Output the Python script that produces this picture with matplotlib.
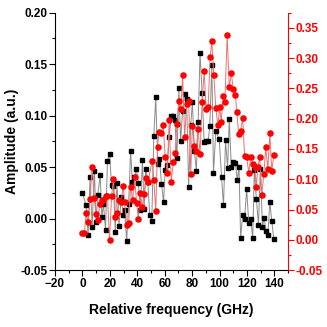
import matplotlib.pyplot as plt
from matplotlib.ticker import MultipleLocator
from matplotlib import font_manager

# black series (left axis)
x_blk = [0.0, 2.7, 4.2, 5.6, 7.1, 8.8, 10.0, 11.2, 13.0, 14.2, 15.4, 16.9, 18.3, 19.8,
         21.3, 22.7, 24.0, 25.2, 26.7, 28.4, 29.6, 30.8, 32.3, 33.7, 35.2, 36.4, 37.9,
         39.4, 40.8, 42.3, 43.8, 45.0, 46.2, 47.7, 49.1, 50.6, 52.1, 53.5, 55.0, 56.2,
         57.7, 59.2, 60.4, 61.9, 63.3, 64.8, 66.0, 67.5, 68.9, 70.4, 71.6, 73.1, 74.6,
         76.0, 77.5, 79.0, 80.2, 81.7, 83.1, 84.4, 85.8, 87.3, 88.8, 90.2, 91.7, 92.9,
         94.4, 95.6, 97.3, 99.8, 101.5, 102.9, 104.4, 105.9, 107.1, 108.6, 110.0, 111.5,
         113.0, 114.2, 115.4, 116.9, 118.3, 119.8, 121.3, 122.7, 124.2, 125.4, 126.9,
         128.4, 129.8, 131.3, 132.5, 134.0, 135.2, 136.7, 138.1, 139.6]
y_blk = [0.025, 0.013, -0.016, 0.040, -0.008, 0.046, -0.003, 0.023, 0.042, 0.002, 0.014,
         -0.011, 0.056, 0.063, 0.033, 0.032, -0.013, 0.035, -0.007, 0.021, 0.004, 0.008,
         -0.022, 0.014, 0.066, 0.036, 0.040, 0.048, 0.035, 0.008, 0.057, 0.009, 0.048,
         0.036, 0.004, -0.002, 0.080, 0.118, 0.053, 0.058, 0.034, 0.016, 0.047, 0.052,
         0.079, 0.100, 0.100, 0.096, 0.059, 0.127, 0.075, 0.105, 0.121, 0.116, 0.031,
         0.091, 0.113, 0.066, 0.046, 0.094, 0.161, 0.122, 0.074, 0.075, 0.075, 0.090,
         0.149, 0.044, 0.085, 0.077, 0.040, 0.013, 0.076, 0.049, 0.097, 0.050, 0.055,
         0.054, 0.038, 0.050, -0.019, 0.004, 0.000, 0.029, -0.004, 0.000, -0.019, 0.047,
         0.019, -0.006, 0.048, -0.008, 0.001, -0.012, -0.016, 0.016, -0.002, -0.020]

# red series (right axis)
x_red = [0.0, 1.5, 2.7, 4.2, 5.6, 7.1, 8.6, 10.0, 11.2, 12.7, 14.2, 15.4, 16.9, 18.3,
         19.8, 21.3, 22.7, 24.0, 25.4, 26.9, 28.4, 29.8, 30.8, 32.3, 33.7, 35.2, 36.7,
         38.1, 39.6, 40.8, 42.3, 43.5, 45.0, 46.5, 47.9, 50.9, 52.1, 53.5, 54.8, 56.0,
         57.5, 58.9, 60.4, 61.9, 63.3, 64.8, 66.3, 67.7, 68.9, 70.4, 71.9, 73.1, 74.6,
         76.0, 77.5, 79.0, 80.2, 81.7, 82.9, 84.4, 85.8, 87.3, 88.8, 90.2, 91.7, 93.2,
         94.4, 95.8, 97.3, 98.8, 100.2, 101.2, 102.7, 103.9, 105.6, 107.1, 108.6, 110.0,
         111.5, 112.7, 113.9, 115.4, 116.9, 118.3, 119.8, 121.3, 122.7, 124.2, 125.7,
         126.9, 127.9, 129.3, 130.8, 132.3, 133.7, 135.2, 136.7, 138.1, 139.6]
y_red = [0.012, 0.011, 0.044, 0.029, 0.068, 0.121, 0.069, 0.043, 0.033, 0.059, 0.066,
         0.066, 0.072, 0.072, 0.000, 0.072, 0.100, 0.037, 0.045, 0.065, 0.063, 0.089,
         0.063, 0.025, 0.027, 0.088, 0.065, 0.103, 0.060, 0.035, 0.077, 0.054, 0.076,
         0.102, 0.095, 0.131, 0.099, 0.047, 0.154, 0.178, 0.176, 0.190, 0.137, 0.110,
         0.198, 0.096, 0.128, 0.143, 0.192, 0.229, 0.216, 0.272, 0.169, 0.225, 0.229,
         0.109, 0.188, 0.155, 0.147, 0.183, 0.142, 0.227, 0.279, 0.216, 0.220, 0.302,
         0.329, 0.273, 0.218, 0.189, 0.220, 0.194, 0.238, 0.227, 0.338, 0.252, 0.275,
         0.249, 0.239, 0.211, 0.175, 0.180, 0.202, 0.139, 0.136, 0.111, 0.136, 0.126,
         0.120, 0.087, 0.121, 0.136, 0.074, 0.108, 0.153, 0.117, 0.176, 0.113, 0.140]

names = {f.name for f in font_manager.fontManager.ttflist}
fam = 'Liberation Sans Narrow' if 'Liberation Sans Narrow' in names else 'Liberation Sans'
plt.rcParams['font.family'] = [fam, 'DejaVu Sans']
plt.rcParams['font.weight'] = 'bold'

fig = plt.figure(figsize=(3.27, 3.27), dpi=100)
ax = fig.add_axes([0.168, 0.174, 0.713, 0.787])
ax2 = ax.twinx()

ax.plot(x_blk, y_blk, color='#8a8a8a', lw=0.7, marker='s', ms=3.0,
        mfc='black', mec='black', zorder=2)
ax2.plot(x_red, y_red, color='#f07070', lw=0.7, marker='o', ms=3.7,
         mfc='red', mec='red', zorder=3)

ax.set_xlim(-20, 150)
ax.set_ylim(-0.05, 0.20)
ax2.set_ylim(-0.05, 0.375)

ax.xaxis.set_major_locator(MultipleLocator(20))
ax.xaxis.set_minor_locator(MultipleLocator(10))
ax.yaxis.set_major_locator(MultipleLocator(0.05))
ax.yaxis.set_minor_locator(MultipleLocator(0.025))
ax2.yaxis.set_major_locator(MultipleLocator(0.05))
ax2.yaxis.set_minor_locator(MultipleLocator(0.025))
ax.set_xticks([-20, 0, 20, 40, 60, 80, 100, 120, 140])

for a in (ax, ax2):
    a.spines['top'].set_visible(False)
ax.spines['right'].set_visible(False)
ax2.spines['left'].set_visible(False)
ax2.spines['bottom'].set_visible(False)
ax2.spines['right'].set_color('red')

ax.tick_params(which='major', length=4, width=0.8, labelsize=8.5, pad=1.5)
ax.tick_params(which='minor', length=2.5, width=0.8)
ax2.tick_params(which='major', length=4, width=0.8, labelsize=8.5, pad=1.5,
                color='red', labelcolor='red')
ax2.tick_params(which='minor', length=2.5, width=0.8, color='red')

ax.yaxis.set_major_formatter(plt.FuncFormatter(lambda v, p: f'{v:.2f}'))
ax2.yaxis.set_major_formatter(plt.FuncFormatter(lambda v, p: f'{v:.2f}'))

ax.set_xlabel('Relative frequency (GHz)', fontsize=10, fontweight='bold', va='center')
ax.set_ylabel('Amplitude (a.u.)', fontsize=10, fontweight='bold', va='center')
ax.xaxis.set_label_coords(0.5, -0.156)
ax.yaxis.set_label_coords(-0.185, 0.5)

fig.savefig('out.png', dpi=100)
